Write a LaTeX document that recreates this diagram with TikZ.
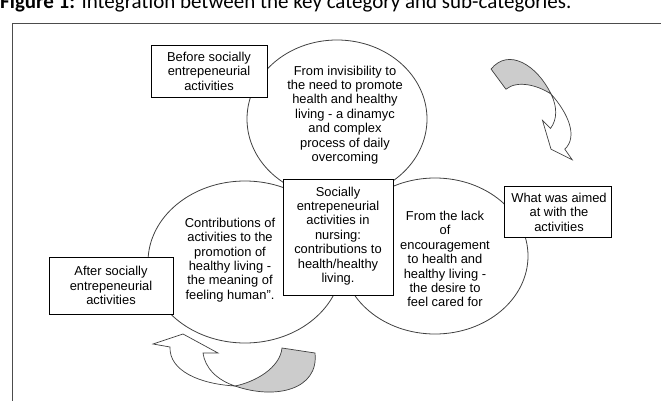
\documentclass[tikz,border=0pt]{standalone}
\usepackage{fontspec}
\setmainfont{Liberation Sans}
\newfontfamily\captionfont{Carlito}
\usetikzlibrary{positioning,shapes.geometric}

\tikzset{
  box/.style={draw, fill=white, line width=0.7pt, inner sep=0pt},
  oval/.style={ellipse, draw=black!75, line width=0.8pt, inner sep=0pt},
  txt/.style={align=center, inner sep=0pt},
  ribbon/.style={draw=black!75, line width=0.7pt, line join=miter},
}

% twisted curved block arrow, pinch point at (0,0)
\newcommand{\twistarrow}{%
  \filldraw[ribbon, fill=white] (-65,-39) .. controls (-66,-15) and (-35,-2) .. (0,0)
    .. controls (-18,-6) and (-30,-18) .. (-32,-33) -- (-17,-33) -- (-52,-52) -- (-82,-42) -- cycle;
  \filldraw[ribbon, fill=black!20] (0,0) .. controls (40,14) and (84,4) .. (80,-33)
    -- (47,-38) .. controls (45,-18) and (20,-4) .. (0,0) -- cycle;
}

\begin{document}
\begin{tikzpicture}[x=1pt, y=-1pt, font=\fontsize{12.9}{14.4}\selectfont]
\clip (0,0) rectangle (661,401);
\useasboundingbox (0,0) rectangle (661,401);

\node[anchor=base west, inner sep=0pt, font=\captionfont\fontsize{21}{21}\selectfont] (title) at (0,8.5)
  {\textbf{Figure 1:} Integration between the key category and sub-categories.};

% frame
\coordinate (fbl) at (12.5,401);
\coordinate (ftl) at (12.5,23);
\coordinate (ftr) at (661,23);
\draw[black!70, line width=0.8pt] (fbl) -- (ftl) -- (ftr);

% the three sub-categories
\node[oval, minimum width=180pt, minimum height=158pt] (upper) at (337,119) {};
\node[oval, minimum width=194pt, minimum height=162pt] (left) at (245,262) {};
\node[oval, minimum width=186pt, minimum height=156pt] (right) at (435,256) {};

\node[txt] (uppertxt) at (345,115) {From invisibility to\\the need to promote\\health and healthy\\living - a dinamyc\\and complex\\process of daily\\overcoming};
\node[txt] (lefttxt) at (230,260) {Contributions of\\activities to the\\promotion of\\healthy living -\\the meaning of\\feeling human''.};
\node[txt] (righttxt) at (445,259) {From the lack\\of\\encouragement\\to health and\\healthy living -\\the desire to\\feel cared for};

% key category
\node[box, minimum width=110pt, minimum height=116pt] (key) at (338,237) {};
\node[txt] (keytxt) at (338,236) {Socially\\entrepeneurial\\activities in\\nursing:\\contributions to\\health/healthy\\living.};

% time boxes
\node[box, minimum width=116pt, minimum height=52pt] (before) at (209,71) {};
\node[txt] at (before) {Before socially\\entrepeneurial\\activities};
\node[box, minimum width=124pt, minimum height=57pt] (after) at (111,285.5) {};
\node[txt] at (after) {After socially\\entrepeneurial\\activities};
\node[box, minimum width=107pt, minimum height=51pt] (aimed) at (557.5,211.5) {};
\node[txt] at (559,212) {What was aimed\\at with the\\activities};

% curved arrows
\begin{scope}[shift={(235,386)}]
  \twistarrow
\end{scope}
\begin{scope}[shift={(551,94)}, rotate=135, scale=0.75]
  \twistarrow
\end{scope}
\end{tikzpicture}
\end{document}
